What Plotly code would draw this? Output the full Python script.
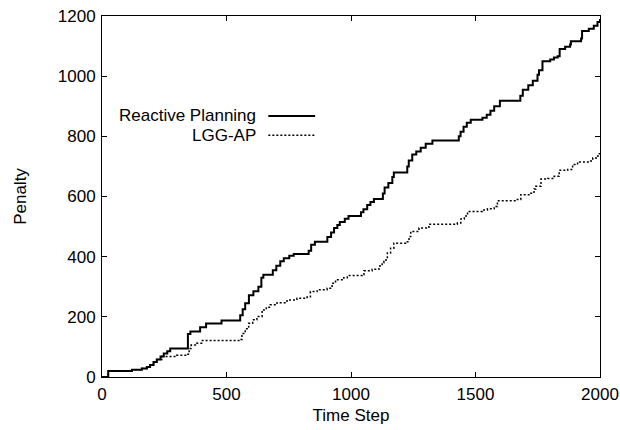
import plotly.graph_objects as go

# Reactive Planning (step curve)
rp_t = [0, 25, 120, 160, 180, 193, 207, 220, 235, 248, 262, 274, 345, 355, 394, 418, 480,
        555, 565, 575, 590, 608, 628, 640, 648, 686, 700, 716, 730, 752, 770, 830, 840, 855,
        905, 920, 932, 945, 955, 975, 990, 1040, 1050, 1065, 1078, 1092, 1128, 1135, 1150,
        1166, 1172, 1226, 1232, 1246, 1262, 1280, 1300, 1327, 1433, 1440, 1452, 1465, 1481,
        1528, 1545, 1560, 1575, 1598, 1680, 1690, 1712, 1730, 1749, 1755, 1769, 1800, 1815,
        1830, 1838, 1860, 1880, 1883, 1924, 1928, 1955, 1975, 1990, 2000]
rp_v = [0, 20, 24, 28, 33, 40, 50, 58, 68, 78, 86, 95, 143, 151, 165, 178, 188,
        205, 225, 245, 272, 285, 300, 330, 340, 355, 370, 385, 395, 403, 409, 420, 440, 450,
        465, 480, 495, 505, 515, 526, 535, 548, 558, 572, 582, 592, 610, 630, 645,
        665, 680, 700, 720, 740, 750, 762, 775, 786, 800, 815, 832, 845, 855,
        862, 872, 885, 900, 918, 935, 955, 970, 985, 1005, 1020, 1050, 1055, 1062,
        1066, 1090, 1098, 1105, 1116, 1125, 1150, 1158, 1168, 1180, 1190]

# LGG-AP (step curve)
lg_t = [0, 25, 120, 160, 180, 193, 207, 220, 240, 300, 341, 350, 358, 380, 400, 555, 562,
        575, 589, 605, 622, 643, 660, 676, 703, 743, 783, 824, 837, 864, 904, 924, 938, 971,
        985, 1045, 1052, 1085, 1112, 1125, 1132, 1146, 1159, 1172, 1219, 1233, 1240, 1273,
        1313, 1427, 1441, 1455, 1468, 1528, 1548, 1575, 1588, 1668, 1682, 1722, 1735, 1742,
        1763, 1790, 1816, 1836, 1870, 1890, 1910, 1957, 1971, 1985, 1997, 2000]
lg_v = [0, 20, 24, 28, 33, 40, 50, 58, 68, 72, 76, 95, 106, 112, 121, 125, 145,
        160, 179, 190, 201, 223, 232, 240, 247, 256, 262, 267, 284, 290, 295, 312, 323, 330,
        337, 340, 353, 358, 369, 380, 389, 412, 428, 445, 450, 467, 484, 495,
        508, 512, 525, 535, 550, 555, 559, 567, 586, 590, 606, 611, 625, 634,
        658, 660, 667, 687, 690, 706, 715, 718, 728, 735, 742, 742]

x_ticks = [0, 500, 1000, 1500, 2000]
y_ticks = [0, 200, 400, 600, 800, 1000, 1200]
legend_names = ["Reactive Planning", "LGG-AP"]

FONT = "Liberation Sans, Arial, sans-serif"

fig = go.Figure()
fig.add_trace(go.Scatter(x=rp_t, y=rp_v, mode="lines", line=dict(color="black", width=2, shape="hv"),
                         name=legend_names[0], showlegend=False))
fig.add_trace(go.Scatter(x=lg_t, y=lg_v, mode="lines",
                         line=dict(color="black", width=1.5, shape="hv", dash="2px,2px"),
                         name=legend_names[1], showlegend=False))

# gnuplot-style legend: text right-aligned, sample line to the right
rows_y = [0.723, 0.670]
dashes = ["solid", "2px,2px"]
widths = [2, 1.5]
for name, yy, d, w in zip(legend_names, rows_y, dashes, widths):
    fig.add_annotation(x=0.313, y=yy, xref="paper", yref="paper", text=name, showarrow=False,
                       xanchor="right", yanchor="middle", font=dict(family=FONT, size=17, color="black"))
    fig.add_shape(type="line", xref="paper", yref="paper", x0=0.334, x1=0.428, y0=yy, y1=yy,
                  line=dict(color="black", width=w, dash=d))

axis_common = dict(showline=True, linecolor="black", linewidth=1, mirror="ticks", ticks="inside",
                   ticklen=5, tickcolor="black", tickwidth=1, showgrid=False, zeroline=False,
                   automargin=False, tickfont=dict(family=FONT, size=17, color="black"))

fig.update_layout(
    width=620, height=430,
    margin=dict(l=102, r=20, t=16, b=53),
    paper_bgcolor="white", plot_bgcolor="white",
    xaxis=dict(range=[0, 2000], tickvals=x_ticks, ticklabelstandoff=2,
               title=dict(text="Time Step", standoff=5, font=dict(family=FONT, size=17, color="black")),
               **axis_common),
    yaxis=dict(range=[0, 1200], tickvals=y_ticks, ticklabelstandoff=2,
               title=dict(text="Penalty", standoff=26, font=dict(family=FONT, size=17, color="black")),
               **axis_common),
)

fig.write_html("out.html")
